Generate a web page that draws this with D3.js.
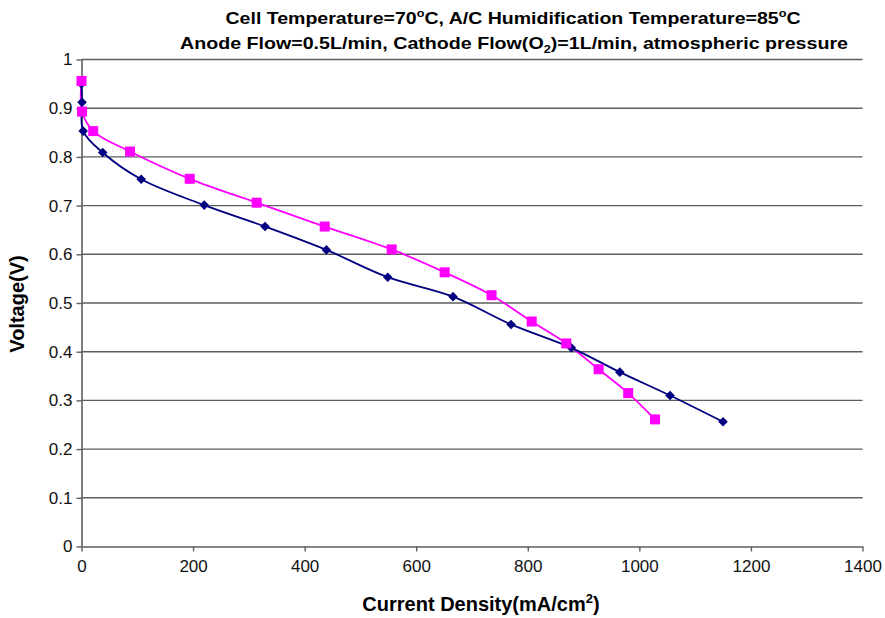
<!DOCTYPE html>
<html lang="en">
  <head>
    <meta charset="utf-8">
    <title>Polarization curves</title>
    <script src="https://d3js.org/d3.v7.min.js"></script>
    <style>
      body { margin: 0; background: #fff; }
      text { font-family: "Liberation Sans", Arial, sans-serif; }
    </style>
  </head>
  <body>
    <svg id="chart" width="885" height="618"></svg>
    <script type="text/javascript">
      // current density (mA/cm2) and voltage (V)
      var blueX = [0, 1, 3, 38, 107, 220, 329, 439, 549, 666, 770, 878, 965, 1055, 1150];
      var blueV = [0.95, 0.912, 0.853, 0.809, 0.754, 0.701, 0.657, 0.609, 0.553, 0.513, 0.456, 0.408, 0.358, 0.310, 0.256];
      var pinkX = [0, 1, 21, 87, 194, 314, 436, 556, 651, 735, 807, 869, 927, 980, 1028];
      var pinkV = [0.956, 0.893, 0.853, 0.811, 0.755, 0.706, 0.657, 0.610, 0.563, 0.516, 0.462, 0.417, 0.364, 0.315, 0.261];
      var xTicks = [0, 200, 400, 600, 800, 1000, 1200, 1400];
      var yTicks = [0, 0.1, 0.2, 0.3, 0.4, 0.5, 0.6, 0.7, 0.8, 0.9, 1];

      var svg = d3.select("svg#chart");
      var plotL = 81.5, plotR = 862.5, plotT = 59.5, plotB = 546.5;

      var xScale = d3.scaleLinear().domain([0, 1400]).range([plotL, plotR]);
      var yScale = d3.scaleLinear().domain([0, 1]).range([plotB, plotT]);

      // gridlines
      svg.append("g").selectAll("line").data(yTicks.filter(d => d > 0)).enter().append("line")
        .attr("x1", plotL).attr("x2", plotR)
        .attr("y1", d => yScale(d)).attr("y2", d => yScale(d))
        .attr("stroke", "#5e5e5e").attr("stroke-width", 1.4);

      var xAxis = d3.axisBottom(xScale).tickValues(xTicks).tickSize(5).tickPadding(8).tickSizeOuter(0)
        .tickFormat(d3.format("d"));
      var yAxis = d3.axisLeft(yScale).tickValues(yTicks).tickSize(5).tickPadding(4).tickSizeOuter(0)
        .tickFormat(d => String(+d.toFixed(1)));

      var gx = svg.append("g").attr("transform", "translate(0," + plotB + ")").call(xAxis);
      var gy = svg.append("g").attr("transform", "translate(" + plotL + ",0)").call(yAxis);
      [gx, gy].forEach(function (g) {
        g.select(".domain").attr("stroke", "#5e5e5e").attr("stroke-width", 1.6);
        g.selectAll(".tick line").attr("stroke", "#5e5e5e").attr("stroke-width", 1.4);
        g.selectAll(".tick text").style("font", "17px 'Liberation Sans', Arial, sans-serif").attr("fill", "#111");
      });

      function series(xs, vs) {
        return xs.map((x, i) => ({ x: x, v: vs[i] }));
      }
      var blue = series(blueX, blueV);
      var pink = series(pinkX, pinkV);

      var line = d3.line().x(d => xScale(d.x)).y(d => yScale(d.v)).curve(d3.curveCatmullRom.alpha(0.5));

      svg.append("path").datum(pink).attr("d", line)
        .attr("fill", "none").attr("stroke", "#ff00ff").attr("stroke-width", 1.8);
      svg.append("path").datum(blue).attr("d", line)
        .attr("fill", "none").attr("stroke", "#000080").attr("stroke-width", 1.8);

      var diamond = d3.symbol().type(d3.symbolSquare).size(46);
      svg.append("g").selectAll("path").data(blue).enter().append("path")
        .attr("d", diamond)
        .attr("transform", d => "translate(" + xScale(d.x) + "," + yScale(d.v) + ") rotate(45)")
        .attr("fill", "#000080");

      var sq = 10;
      svg.append("g").selectAll("rect").data(pink).enter().append("rect")
        .attr("x", d => xScale(d.x) - sq / 2).attr("y", d => yScale(d.v) - sq / 2)
        .attr("width", sq).attr("height", sq).attr("fill", "#ff00ff");

      // title
      var t1 = svg.append("text").attr("x", 513).attr("y", 24).attr("text-anchor", "middle")
        .attr("textLength", 575).attr("lengthAdjust", "spacingAndGlyphs")
        .style("font", "bold 17px 'Liberation Sans', Arial, sans-serif");
      t1.append("tspan").text("Cell Temperature=70");
      t1.append("tspan").attr("dy", -7).style("font-size", "11px").text("o");
      t1.append("tspan").attr("dy", 7).text("C, A/C Humidification Temperature=85");
      t1.append("tspan").attr("dy", -7).style("font-size", "11px").text("o");
      t1.append("tspan").attr("dy", 7).text("C");

      var t2 = svg.append("text").attr("x", 514).attr("y", 49).attr("text-anchor", "middle")
        .attr("textLength", 668).attr("lengthAdjust", "spacingAndGlyphs")
        .style("font", "bold 17px 'Liberation Sans', Arial, sans-serif");
      t2.append("tspan").text("Anode Flow=0.5L/min, Cathode Flow(O");
      t2.append("tspan").attr("dy", 4).style("font-size", "11px").text("2");
      t2.append("tspan").attr("dy", -4).text(")=1L/min, atmospheric pressure");

      // axis titles
      var xl = svg.append("text").attr("x", 481).attr("y", 611).attr("text-anchor", "middle")
        .style("font", "bold 20px 'Liberation Sans', Arial, sans-serif");
      xl.append("tspan").text("Current Density(mA/cm");
      xl.append("tspan").attr("dy", -8).style("font-size", "13px").text("2");
      xl.append("tspan").attr("dy", 8).text(")");

      svg.append("text").attr("transform", "translate(24,304) rotate(-90)").attr("text-anchor", "middle")
        .style("font", "bold 20px 'Liberation Sans', Arial, sans-serif").text("Voltage(V)");
    </script>
  </body>
</html>
